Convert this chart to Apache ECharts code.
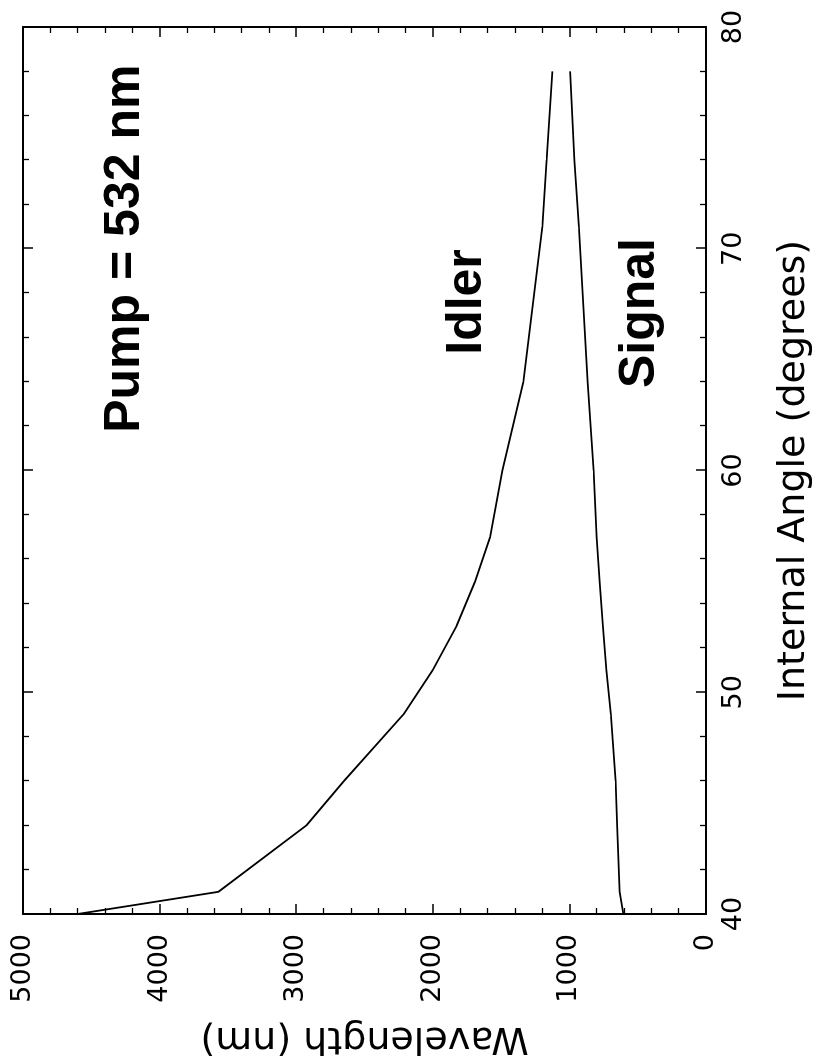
<!DOCTYPE html>
<html>
<head>
<meta charset="utf-8">
<title>Pump = 532 nm</title>
<script src="https://cdn.jsdelivr.net/npm/echarts@6/dist/echarts.min.js"></script>
<style>
  html, body { margin: 0; padding: 0; background: #fff; }
  body { width: 819px; height: 1063px; overflow: hidden; position: relative; }
  /* the plot is laid out landscape and turned a quarter turn onto the portrait page */
  #chart {
    position: absolute; left: 0; top: 1063px;
    width: 1063px; height: 819px;
    transform-origin: 0 0;
    transform: rotate(-90deg);
  }
</style>
</head>
<body>
<div id="chart"></div>
<script>
// Internal phase-matching angle (degrees) and the resulting wavelengths (nm)
const angles = [40, 41, 44, 46, 49, 51, 53, 55, 57, 60, 64, 71, 74, 78];
const idler  = [4600, 3570, 2925, 2650, 2215, 2000, 1825, 1690, 1580, 1490, 1337, 1198, 1166, 1125];
const signal = [605, 632, 650, 662, 697, 730, 755, 778, 800, 822, 866, 930, 964, 995];

// Axis ranges and ticks
const angleTicks = [40, 50, 60, 70, 80];
const wavelengthTicks = [0, 1000, 2000, 3000, 4000, 5000];

// Text notes placed in data coordinates
const noteTexts = ['Pump = 532 nm', 'Idler', 'Signal'];
const noteAngles = [61.7, 67.6, 67.1];
const noteWavelengths = [4250, 1750, 480];
const noteAlign = ['left', 'center', 'center'];

const pairs = (xs, ys) => xs.map((x, i) => [x, ys[i]]);

const INK = '#000000';
const REG = '"DejaVu Sans", sans-serif';
const BOLD = '"Liberation Sans", Arial, sans-serif';

function frameAxis(extra) {
  return Object.assign({
    type: 'value',
    axisLine: { show: true, onZero: false, lineStyle: { color: INK, width: 2 } },
    axisTick: { show: true, inside: true, length: 10, lineStyle: { color: INK, width: 1.5 } },
    minorTick: { show: true, splitNumber: 5, length: 6, lineStyle: { color: INK, width: 1.3 } },
    splitLine: { show: false },
    minorSplitLine: { show: false },
    nameMoveOverlap: false
  }, extra);
}

const plain = v => String(v);

const chart = echarts.init(document.getElementById('chart'), null, { renderer: 'canvas' });

chart.setOption({
  animation: false,
  backgroundColor: '#fff',
  grid: { left: 149, right: 27, top: 23, bottom: 113, containLabel: false, outerBoundsMode: 'none' },
  xAxis: [
    frameAxis({
      position: 'bottom',
      min: angleTicks[0], max: angleTicks[angleTicks.length - 1], interval: 10,
      name: 'Internal Angle (degrees)',
      nameLocation: 'middle', nameGap: 69,
      nameTextStyle: { color: INK, fontFamily: REG, fontSize: 38 },
      axisLabel: { show: true, margin: 14, color: INK, fontFamily: REG, fontSize: 27, formatter: plain }
    }),
    frameAxis({
      position: 'top',
      min: angleTicks[0], max: angleTicks[angleTicks.length - 1], interval: 10,
      axisLabel: { show: false }
    })
  ],
  yAxis: [
    frameAxis({
      position: 'left',
      min: wavelengthTicks[0], max: wavelengthTicks[wavelengthTicks.length - 1], interval: 1000,
      name: 'Wavelength (nm)',
      nameLocation: 'middle', nameGap: 105,
      nameTextStyle: { color: INK, fontFamily: REG, fontSize: 38 },
      axisLabel: { show: true, margin: 20, color: INK, fontFamily: REG, fontSize: 27, formatter: plain }
    }),
    frameAxis({
      position: 'right',
      min: wavelengthTicks[0], max: wavelengthTicks[wavelengthTicks.length - 1], interval: 1000,
      axisLabel: { show: false }
    })
  ],
  series: [
    {
      name: 'Idler', type: 'line', data: pairs(angles, idler),
      showSymbol: false, smooth: false,
      lineStyle: { color: INK, width: 1.8 }
    },
    {
      name: 'Signal', type: 'line', data: pairs(angles, signal),
      showSymbol: false, smooth: false,
      lineStyle: { color: INK, width: 1.8 }
    },
    {
      name: 'notes', type: 'scatter', symbolSize: 0, silent: true,
      itemStyle: { color: INK, opacity: 1 },
      data: noteTexts.map((t, i) => ({
        value: [noteAngles[i], noteWavelengths[i]],
        name: t,
        label: { align: noteAlign[i] }
      })),
      label: {
        show: true, position: 'inside', formatter: p => p.name,
        color: INK, opacity: 1, textBorderWidth: 0,
        fontFamily: BOLD, fontWeight: 'bold', fontSize: 50,
        verticalAlign: 'middle'
      }
    }
  ]
});
</script>
</body>
</html>
